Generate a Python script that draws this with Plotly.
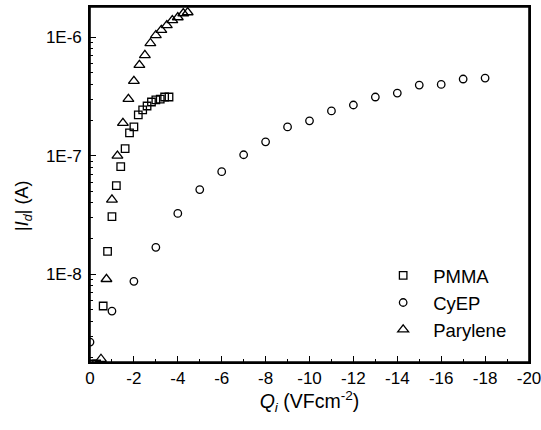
import plotly.graph_objects as go

# PMMA (squares)
pmma_x = [-0.1, -0.3, -0.6, -0.8, -1.0, -1.2, -1.4, -1.6, -1.8, -2.0, -2.2, -2.4, -2.6, -2.8, -3.0, -3.2, -3.4, -3.6]
pmma_y = [1.75e-9, 1.75e-9, 5.4e-9, 1.56e-8, 3.07e-8, 5.6e-8, 8.1e-8, 1.15e-7, 1.56e-7, 1.75e-7, 2.21e-7,
          2.44e-7, 2.63e-7, 2.84e-7, 2.96e-7, 3.01e-7, 3.13e-7, 3.13e-7]

# CyEP (circles)
cyep_x = [0, -1, -2, -3, -4, -5, -6, -7, -8, -9, -10, -11, -12, -13, -14, -15, -16, -17, -18]
cyep_y = [2.68e-9, 4.89e-9, 8.73e-9, 1.69e-8, 3.26e-8, 5.18e-8, 7.34e-8, 1.02e-7, 1.31e-7, 1.75e-7,
          1.97e-7, 2.39e-7, 2.68e-7, 3.13e-7, 3.38e-7, 3.95e-7, 4.0e-7, 4.44e-7, 4.52e-7]

# Parylene (triangles)
pary_x = [-0.5, -0.75, -1.0, -1.25, -1.5, -1.75, -2.0, -2.25, -2.5, -2.75, -3.0, -3.25, -3.5, -3.75, -4.0, -4.25, -4.45]
pary_y = [1.93e-9, 9.1e-9, 4.26e-8, 1.0e-7, 1.89e-7, 3.01e-7, 4.27e-7, 5.82e-7, 7.06e-7, 8.9e-7, 1.04e-6,
          1.15e-6, 1.26e-6, 1.39e-6, 1.47e-6, 1.59e-6, 1.62e-6]

x_tickvals = [0, -2, -4, -6, -8, -10, -12, -14, -16, -18, -20]
x_ticktext = ["0", "-2", "-4", "-6", "-8", "-10", "-12", "-14", "-16", "-18", "-20"]
x_minor = [-1, -3, -5, -7, -9, -11, -13, -15, -17, -19]
y_tickvals = [1e-8, 1e-7, 1e-6]
y_ticktext = ["1E-8", "1E-7", "1E-6"]
y_minor = [m * 10.0 ** e for e in (-9, -8, -7) for m in range(2, 10)]

font = "Liberation Sans, Arial, sans-serif"

fig = go.Figure()
fig.add_trace(go.Scatter(x=pmma_x, y=pmma_y, mode="markers", name="PMMA",
                         marker=dict(symbol="square-open", color="black", size=7.5,
                                     line=dict(color="black", width=1.3))))
fig.add_trace(go.Scatter(x=cyep_x, y=cyep_y, mode="markers", name="CyEP",
                         marker=dict(symbol="circle-open", color="black", size=7.5,
                                     line=dict(color="black", width=1.3))))
fig.add_trace(go.Scatter(x=pary_x, y=pary_y, mode="markers", name="Parylene",
                         marker=dict(symbol="triangle-up-open", color="black", size=9.5,
                                     line=dict(color="black", width=1.3))))

fig.update_layout(
    width=541, height=430,
    margin=dict(l=90, r=12, t=7, b=68, autoexpand=False),
    paper_bgcolor="white", plot_bgcolor="white",
    font=dict(family=font, size=17, color="black"),
    legend=dict(x=0.645, y=0.296, xanchor="left", yanchor="top", itemwidth=50,
                font=dict(size=18.5), bgcolor="rgba(0,0,0,0)"),
    annotations=[dict(text="|<i>I</i><sub><i>d</i></sub>| (A)", textangle=-90,
                      xref="paper", yref="paper", x=-0.15, y=0.44,
                      xanchor="center", yanchor="middle", showarrow=False,
                      font=dict(size=18))],
    shapes=[dict(type="rect", xref="paper", yref="paper", x0=0, x1=1, y0=0, y1=1,
                 line=dict(color="black", width=1.6), layer="above")],
)
fig.update_xaxes(
    range=[0, -20], showline=True, linecolor="black", linewidth=1.6, mirror=True,
    showgrid=False, zeroline=False, automargin=False, ticklabeloverflow="allow",
    ticks="inside", ticklen=6, tickwidth=1.3, tickcolor="black",
    tickmode="array", tickvals=x_tickvals, ticktext=x_ticktext,
    minor=dict(tickmode="array", tickvals=x_minor, ticks="inside", ticklen=3, tickwidth=1.3, tickcolor="black", showgrid=False),
    title=dict(text="<i>Q</i><sub><i>i</i></sub> (VFcm<sup>-2</sup>)", font=dict(size=19.5), standoff=6),
)
fig.update_yaxes(
    type="log", range=[-8.74, -5.745], showline=True, linecolor="black", linewidth=1.6, mirror=True,
    showgrid=False, zeroline=False, automargin=False,
    ticks="inside", ticklen=6, tickwidth=1.3, tickcolor="black", ticklabelstandoff=3,
    tickmode="array", tickvals=y_tickvals, ticktext=y_ticktext,
    minor=dict(tickmode="array", tickvals=y_minor, ticks="inside", ticklen=3, tickwidth=1.3, tickcolor="black", showgrid=False),
)

fig.write_html("out.html", config={"displayModeBar": False},
               post_script="document.body.style.margin='0';document.body.style.overflow='hidden';")
